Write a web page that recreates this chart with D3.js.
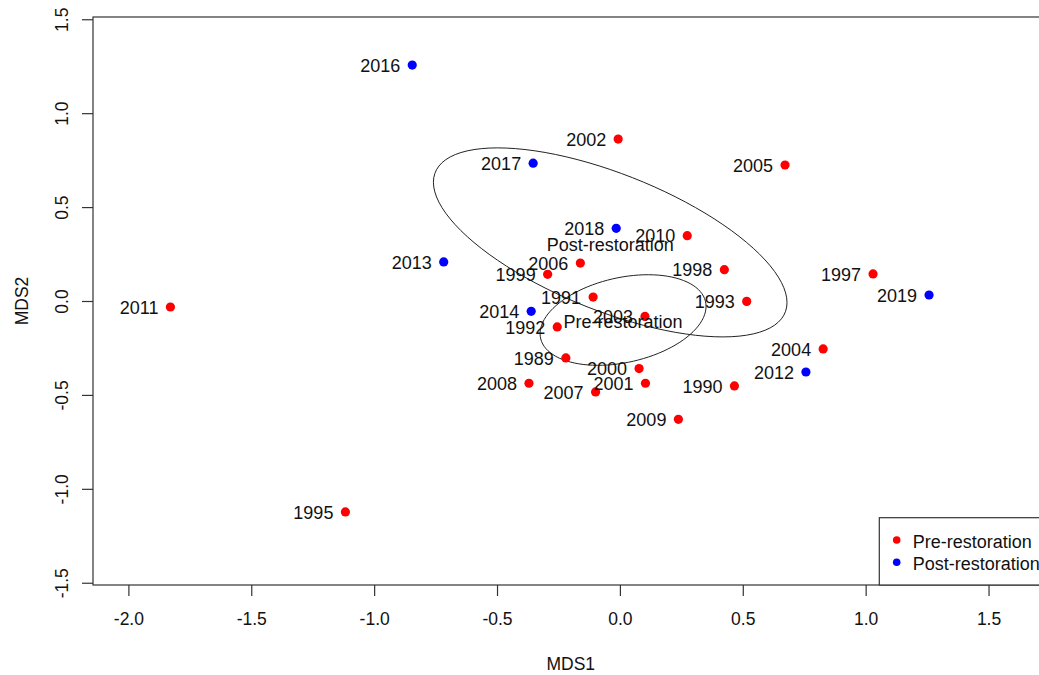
<!DOCTYPE html>
<html>
<head>
<meta charset="utf-8">
<script src="https://cdn.jsdelivr.net/npm/d3@7"></script>
<style>
  html, body { margin: 0; padding: 0; background: #fff; }
  svg { display: block; }
  text { font-family: "Liberation Sans", Arial, sans-serif; fill: #111; }
</style>
</head>
<body>
<svg id="chart" width="1039" height="675"></svg>
<script>
// NMDS site scores by year
const years = [1989, 1990, 1991, 1992, 1993, 1995, 1997, 1998, 1999, 2000, 2001,
               2002, 2003, 2004, 2005, 2006, 2007, 2008, 2009, 2010, 2011,
               2012, 2013, 2014, 2016, 2017, 2018, 2019];
const mds1 = [-0.220, 0.466, -0.109, -0.255, 0.516, -1.117, 1.030, 0.425, -0.294, 0.078, 0.104,
              -0.007, 0.102, 0.827, 0.672, -0.161, -0.099, -0.370, 0.238, 0.274, -1.829,
              0.757, -0.717, -0.361, -0.845, -0.353, -0.015, 1.258];
const mds2 = [-0.303, -0.452, 0.021, -0.138, -0.002, -1.123, 0.144, 0.167, 0.142, -0.360, -0.438,
              0.862, -0.082, -0.255, 0.724, 0.202, -0.484, -0.438, -0.630, 0.348, -0.032,
              -0.378, 0.208, -0.055, 1.256, 0.734, 0.387, 0.032];
const period = years.map(y => y >= 2012 ? "Post-restoration" : "Pre-restoration");

const groups = ["Pre-restoration", "Post-restoration"];
const groupColors = ["#ff0000", "#0000ff"];

const xTicks = [-2.0, -1.5, -1.0, -0.5, 0.0, 0.5, 1.0, 1.5];
const yTicks = [-1.5, -1.0, -0.5, 0.0, 0.5, 1.0, 1.5];
const xLimits = [-2.0, 1.6];
const yLimits = [-1.4, 1.4];

// 95% confidence ellipse of the group centroid (standard error)
const confLevel = 0.95;

// ---- layout ----
const svg = d3.select("#chart");
const plot = { left: 93, right: 1048.5, top: 17, bottom: 585 };

// R-style 4% range extension
function extend(lim) {
  const d = (lim[1] - lim[0]) * 0.04;
  return [lim[0] - d, lim[1] + d];
}
const x = d3.scaleLinear().domain(extend(xLimits)).range([plot.left, plot.right]);
const y = d3.scaleLinear().domain(extend(yLimits)).range([plot.bottom, plot.top]);
const color = d3.scaleOrdinal().domain(groups).range(groupColors);
const fmt = d => d.toFixed(1);

const lineColor = "#333";

// x axis ticks and labels
const xAxis = svg.append("g").attr("transform", `translate(0,${plot.bottom})`)
  .call(d3.axisBottom(x).tickValues(xTicks).tickSize(11).tickSizeOuter(0).tickFormat(fmt));
xAxis.select(".domain").remove();
xAxis.selectAll(".tick line").attr("stroke", lineColor).attr("stroke-width", 1.2);
xAxis.selectAll(".tick text")
  .attr("y", 40).attr("dy", 0).attr("fill", "#111")
  .style("font-size", "17.5px").style("font-family", "'Liberation Sans', Arial, sans-serif");

// y axis ticks and rotated labels
const yAxis = svg.append("g").attr("transform", `translate(${plot.left},0)`)
  .call(d3.axisLeft(y).tickValues(yTicks).tickSize(11).tickSizeOuter(0).tickFormat(fmt));
yAxis.select(".domain").remove();
yAxis.selectAll(".tick line").attr("stroke", lineColor).attr("stroke-width", 1.2);
yAxis.selectAll(".tick text")
  .attr("x", 0).attr("dy", 0)
  .attr("text-anchor", "middle")
  .attr("transform", "translate(-25.3,0) rotate(-90)")
  .attr("fill", "#111")
  .style("font-size", "17.5px").style("font-family", "'Liberation Sans', Arial, sans-serif");

// plot frame
svg.append("rect")
  .attr("x", plot.left).attr("y", plot.top)
  .attr("width", plot.right - plot.left).attr("height", plot.bottom - plot.top)
  .attr("fill", "none").attr("stroke", lineColor).attr("stroke-width", 1.2);

// axis titles
svg.append("text")
  .attr("x", (plot.left + plot.right) / 2).attr("y", 670)
  .attr("text-anchor", "middle").style("font-size", "17.5px")
  .text("MDS1");
svg.append("text")
  .attr("transform", `translate(28,${(plot.top + plot.bottom) / 2}) rotate(-90)`)
  .attr("text-anchor", "middle").style("font-size", "17.5px")
  .text("MDS2");

// ---- group ellipses ----
const chi2 = -2 * Math.log(1 - confLevel); // chi-square quantile, 2 df
const tScale = Math.sqrt(chi2);

const ellipseLine = d3.line().x(d => x(d[0])).y(d => y(d[1]));
const ellipses = groups.map(g => {
  const idx = d3.range(years.length).filter(i => period[i] === g);
  const n = idx.length;
  const mx = d3.mean(idx, i => mds1[i]);
  const my = d3.mean(idx, i => mds2[i]);
  let sxx = 0, syy = 0, sxy = 0;
  idx.forEach(i => {
    const dx = mds1[i] - mx, dy = mds2[i] - my;
    sxx += dx * dx; syy += dy * dy; sxy += dx * dy;
  });
  // covariance of the centroid
  const cxx = sxx / (n - 1) / n, cyy = syy / (n - 1) / n, cxy = sxy / (n - 1) / n;
  // Cholesky factor
  const l11 = Math.sqrt(cxx);
  const l21 = cxy / l11;
  const l22 = Math.sqrt(cyy - l21 * l21);
  const pts = d3.range(101).map(k => {
    const th = 2 * Math.PI * k / 100;
    const u = Math.cos(th), v = Math.sin(th);
    return [mx + tScale * (l11 * u), my + tScale * (l21 * u + l22 * v)];
  });
  return { group: g, cx: mx, cy: my, pts };
});

svg.append("g").selectAll("path").data(ellipses).join("path")
  .attr("d", d => ellipseLine(d.pts))
  .attr("fill", "none").attr("stroke", "#222").attr("stroke-width", 1);

// ---- points ----
const idxAll = d3.range(years.length);
svg.append("g").selectAll("circle").data(idxAll).join("circle")
  .attr("cx", i => x(mds1[i])).attr("cy", i => y(mds2[i]))
  .attr("r", 4.6)
  .attr("fill", i => color(period[i]));

// year labels, left of each point
svg.append("g").selectAll("text").data(idxAll).join("text")
  .attr("x", i => x(mds1[i]) - 12).attr("y", i => y(mds2[i]))
  .attr("dy", "0.38em")
  .attr("text-anchor", "end")
  .style("font-size", "18px")
  .text(i => years[i]);

// group labels at centroids
svg.append("g").selectAll("text").data(ellipses).join("text")
  .attr("x", d => x(d.cx)).attr("y", d => y(d.cy))
  .attr("dy", "0.47em")
  .attr("text-anchor", "middle")
  .style("font-size", "18px")
  .text(d => d.group);

// ---- legend (bottom right) ----
const legend = svg.append("g");
legend.append("rect")
  .attr("x", 879.3).attr("y", 517.7)
  .attr("width", plot.right - 879.3).attr("height", plot.bottom - 517.7)
  .attr("fill", "#fff").attr("stroke", lineColor).attr("stroke-width", 1.2);
const items = legend.selectAll("g.item").data(groups).join("g")
  .attr("class", "item")
  .attr("transform", (d, i) => `translate(896.7,${540 + i * 22.3})`);
items.append("circle").attr("r", 3.8).attr("fill", d => color(d));
items.append("text").attr("x", 16).attr("dy", "0.45em")
  .style("font-size", "18px").text(d => d);
</script>
</body>
</html>
